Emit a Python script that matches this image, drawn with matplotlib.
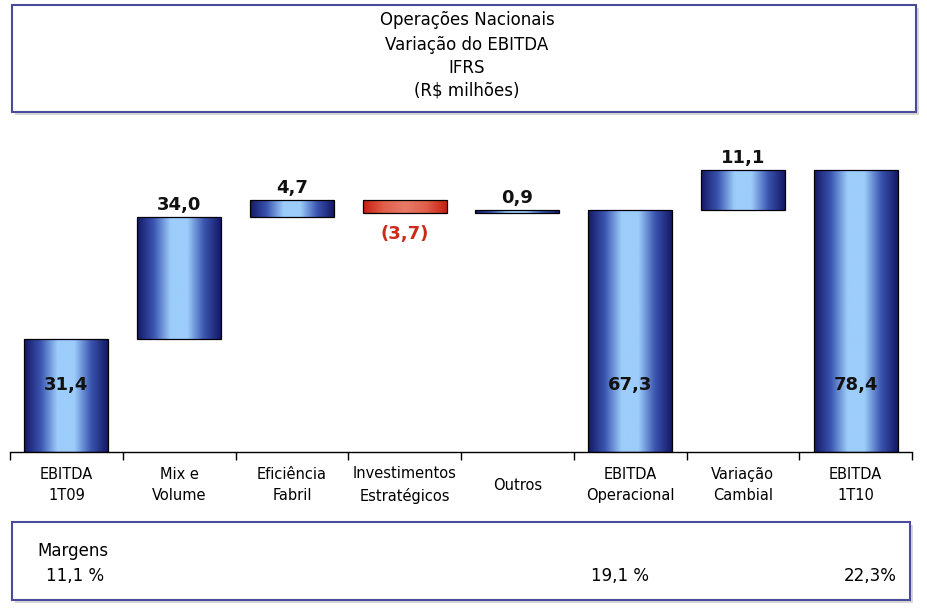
import matplotlib
matplotlib.use("Agg")
import matplotlib.pyplot as plt
import numpy as np
from matplotlib.patches import Rectangle
from matplotlib.colors import LinearSegmentedColormap
from matplotlib.transforms import blended_transform_factory

categories = ["EBITDA\n1T09", "Mix e\nVolume", "Eficiência\nFabril", "Investimentos\nEstratégicos",
              "Outros", "EBITDA\nOperacional", "Variação\nCambial", "EBITDA\n1T10"]
values = [31.4, 34.0, 4.7, -3.7, 0.9, 67.3, 11.1, 78.4]
kinds = ["total", "delta", "delta", "delta", "delta", "total", "delta", "total"]
labels = ["31,4", "34,0", "4,7", "(3,7)", "0,9", "67,3", "11,1", "78,4"]
title_lines = ["Operações Nacionais", "Variação do EBITDA", "IFRS", "(R$ milhões)"]
margin_labels = ["11,1 %", "19,1 %", "22,3%"]

W, H = 927, 609
fig = plt.figure(figsize=(W / 100, H / 100), dpi=100)
fig.patch.set_facecolor("white")

def fx(px):
    return px / W

def fy(py):
    return 1 - py / H

# axes: baseline at y=452, ~3.6 px per unit
ax = fig.add_axes([fx(10), fy(452), fx(912) - fx(10), 312 / H])
ax.set_facecolor("none")
for s in ["top", "right", "left"]:
    ax.spines[s].set_visible(False)
ax.spines["bottom"].set_color("black")
ax.spines["bottom"].set_linewidth(1.0)
ax.set_yticks([])
ax.set_xticks(np.arange(-0.5, len(categories), 1.0))
ax.set_xticklabels([])
ax.tick_params(axis="x", which="major", length=6, width=1, direction="out", color="black")

# category labels, vertically centred under the axis
trans = blended_transform_factory(ax.transData, fig.transFigure)
for i, cat in enumerate(categories):
    ax.text(i, fy(485), cat, transform=trans, ha="center", va="center",
            fontsize=10.5, linespacing=1.5, color="black", clip_on=False)

blue_cmap = LinearSegmentedColormap.from_list("b", ["#141866", "#3a55b0", "#9dcdfb", "#9dcdfb", "#3a55b0", "#141866"])
red_cmap = LinearSegmentedColormap.from_list("r", ["#c81e10", "#e0604c", "#e87a68", "#e0604c", "#c81e10"])
grad = np.linspace(0, 1, 256).reshape(1, -1)

bw = 0.745
running = 0.0
for i, (v, k) in enumerate(zip(values, kinds)):
    if k == "total":
        bottom, top = 0.0, v
        running = v
    else:
        if v >= 0:
            bottom, top = running, running + v
        else:
            bottom, top = running + v, running
        running += v
    x0 = i - bw / 2
    rect = Rectangle((x0, bottom), bw, top - bottom, facecolor="none", edgecolor="black", linewidth=0.9, zorder=3)
    ax.add_patch(rect)
    cmap = red_cmap if v < 0 else blue_cmap
    im = ax.imshow(grad, cmap=cmap, aspect="auto", extent=[x0, x0 + bw, bottom, top], zorder=2, interpolation="bicubic")
    clip = Rectangle((x0, bottom), bw, top - bottom, transform=ax.transData)
    im.set_clip_path(clip)
    if k == "total":
        ax.text(i, 18.6, labels[i], ha="center", va="center", fontsize=13, fontweight="bold", color="#111111", zorder=4)
    elif v >= 0:
        ax.annotate(labels[i], (i, top), xytext=(0, 2), textcoords="offset points",
                    ha="center", va="bottom", fontsize=13, fontweight="bold", color="#111111")
    else:
        ax.annotate(labels[i], (i, bottom), xytext=(0, -9), textcoords="offset points",
                    ha="center", va="top", fontsize=13, fontweight="bold", color="#cc2a1a")
ax.set_xlim(-0.5, len(categories) - 0.5)
ax.set_ylim(0, 312 / 3.6)

# title box with shadow
shadow = Rectangle((fx(15), fy(115)), fx(916) - fx(12), (112 - 5) / H, transform=fig.transFigure,
                   facecolor="#d8d8d8", edgecolor="none", zorder=0)
fig.patches.append(shadow)
tbox = Rectangle((fx(12), fy(112)), fx(916) - fx(12), (112 - 5) / H, transform=fig.transFigure,
                 facecolor="white", edgecolor="#4b4b9b", linewidth=1.5, zorder=1)
fig.patches.append(tbox)
for line, yy in zip(title_lines, [20, 45, 68, 90]):
    fig.text(fx(467), fy(yy), line, ha="center", va="center", fontsize=12, color="black")

# margins box
shadow2 = Rectangle((fx(15), fy(603)), fx(910) - fx(12), (600 - 522) / H, transform=fig.transFigure,
                    facecolor="#d8d8d8", edgecolor="none", zorder=0)
fig.patches.append(shadow2)
mbox = Rectangle((fx(12), fy(600)), fx(910) - fx(12), (600 - 522) / H, transform=fig.transFigure,
                 facecolor="white", edgecolor="#4b4b9b", linewidth=1.5, zorder=1)
fig.patches.append(mbox)
fig.text(fx(37), fy(551), "Margens", ha="left", va="center", fontsize=12, color="black")
xs_m = [fx(75), fx(620), fx(870)]
for lab, xm in zip(margin_labels, xs_m):
    fig.text(xm, fy(576), lab, ha="center", va="center", fontsize=12, color="black")

fig.savefig("out.png", dpi=100, facecolor="white")
